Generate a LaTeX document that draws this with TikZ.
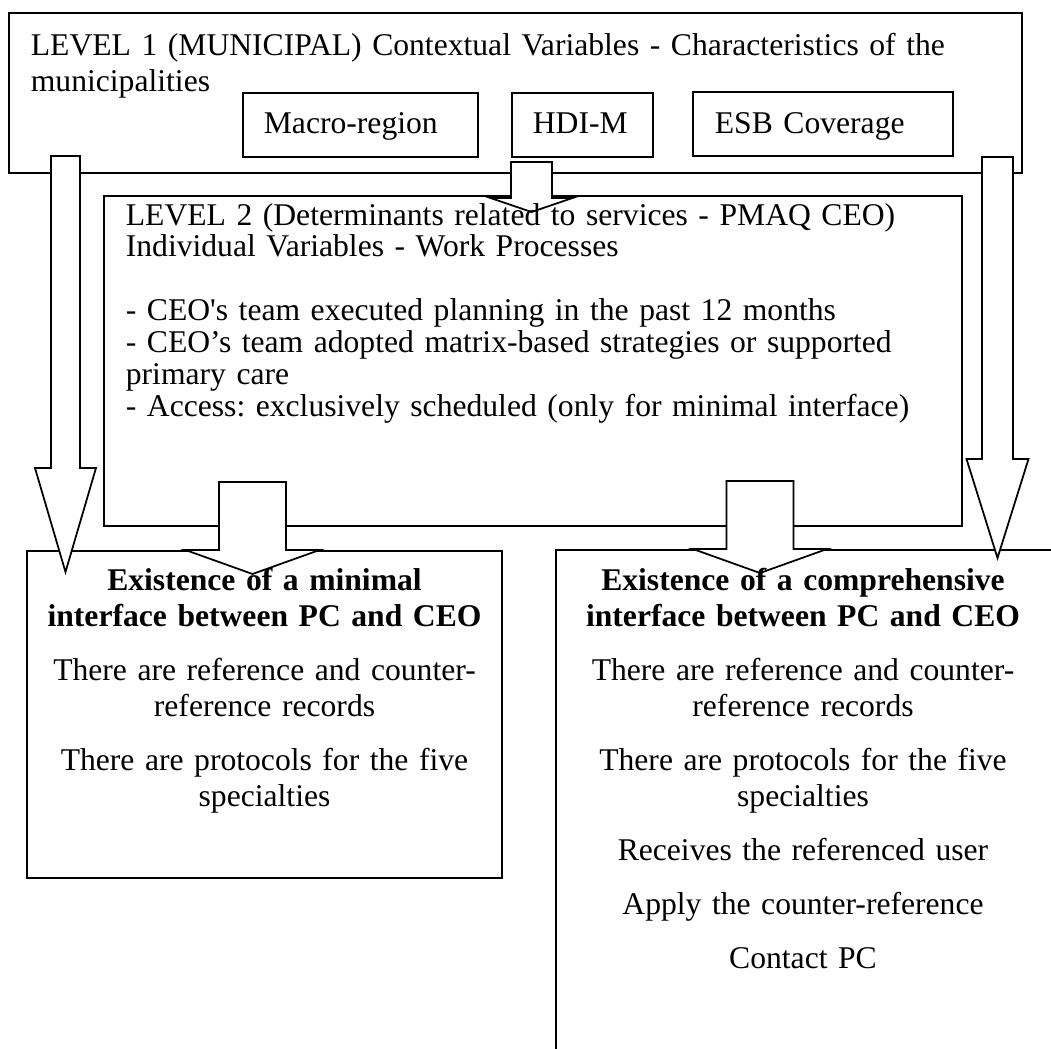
\documentclass[tikz,border=0pt]{standalone}
\usepackage{fontspec}
\setmainfont{Liberation Serif}
\newfontfamily\rawfont{Liberation Serif}
\usetikzlibrary{positioning, calc, fit}
\frenchspacing
\tikzset{
  every picture/.style={line width=1pt},
  frame/.style={draw, rectangle, inner sep=0pt},
  txt/.style={inner sep=0pt, align=left, text width=#1, font=\fontsize{18}{20.5}\selectfont},
  txt/.default=19.5cm,
  ctxt/.style={txt=9.4cm, align=center},
  fatarrow/.style={draw, fill=white, line join=miter},
}
% block arrow: #1 top of shaft, #2 tip, #3 half shaft, #4 half head, #5 head length
\newcommand{\blockarr}[5]{%
  \draw[fatarrow] ($(#1)+(-#3,0)$) -- ($(#1)+(#3,0)$) -- ($(#2)+(#3,-#5)$) -- ($(#2)+(#4,-#5)$)
    -- (#2) -- ($(#2)+(-#4,-#5)$) -- ($(#2)+(-#3,-#5)$) -- cycle;
}

\begin{document}
\begin{tikzpicture}[x=0.02cm, y=-0.02cm]
  \useasboundingbox (0,0) rectangle (1051,1048);
  \clip (0,0) rectangle (1051,1048);
  % level 1 and its variables
  \node[frame, fit={(9,13) (1022,173)}] (lvone) {};
  \node[frame, fit={(243,93) (478,157)}] (macro) {};
  \node[frame, fit={(512,93) (653,157)}] (hdi) {};
  \node[frame, fit={(693,92) (953,156)}] (esb) {};
  % level 2
  \node[frame, fit={(104,196) (962,526)}] (lvtwo) {};
  % outcomes
  \node[frame, fit={(27,551) (502,878)}] (minbox) {};
  \node[frame, fit={(556,550) (1070,1070)}] (compbox) {};
  % arrows
  \coordinate (la) at (65.5,156);  \coordinate (lb) at (65.5,572);
  \coordinate (ra) at (997.5,157); \coordinate (rb) at (997.5,558);
  \coordinate (ta) at (531.5,162); \coordinate (tb) at (531.5,212);
  \coordinate (ma) at (252.5,482); \coordinate (mb) at (252.5,574);
  \coordinate (na) at (760,481);   \coordinate (nb) at (760,573);
  \blockarr{la}{lb}{14.5}{30.5}{104}
  \blockarr{ra}{rb}{15.5}{31}{99}
  \blockarr{ta}{tb}{20.5}{41}{14}
  \blockarr{ma}{mb}{33.5}{67}{24}
  \blockarr{na}{nb}{33.5}{67}{24}
  % texts
  \node[txt, anchor=base west] (lvonetxt) at (30,55) {LEVEL 1 (MUNICIPAL) Contextual Variables - Characteristics of the\\ municipalities};
  \node[txt=4cm, anchor=base west] (macrotxt) at (263,133) {Macro-region};
  \node[txt=4cm, anchor=base west] (hditxt) at (532,133) {HDI-M};
  \node[txt=4cm, anchor=base west] (esbtxt) at (714,133) {ESB Coverage};
  \node[txt, anchor=base west, font=\fontsize{18}{18.2}\selectfont] (lvtwotxt) at (125,225)
    {LEVEL 2 (Determinants related to services - PMAQ CEO)\\
     Individual Variables - Work Processes\\[0.64cm]
     - CEO{\rawfont'}s team executed planning in the past 12 months\\
     - CEO’s team adopted matrix-based strategies or supported\\
     primary care\\
     - Access: exclusively scheduled (only for minimal interface)};
  \node[ctxt, anchor=base] (mintxt) at (264.5,590)
    {\textbf{Existence of a minimal}\\ \textbf{interface between PC and CEO}\\[0.36cm]
     There are reference and counter-\\ reference records\\[0.36cm]
     There are protocols for the five\\ specialties};
  \node[ctxt, anchor=base] (comptxt) at (803,590)
    {\textbf{Existence of a comprehensive}\\ \textbf{interface between PC and CEO}\\[0.36cm]
     There are reference and counter-\\ reference records\\[0.36cm]
     There are protocols for the five\\ specialties\\[0.36cm]
     Receives the referenced user\\[0.36cm]
     Apply the counter-reference\\[0.36cm]
     Contact PC};
\end{tikzpicture}
\end{document}
